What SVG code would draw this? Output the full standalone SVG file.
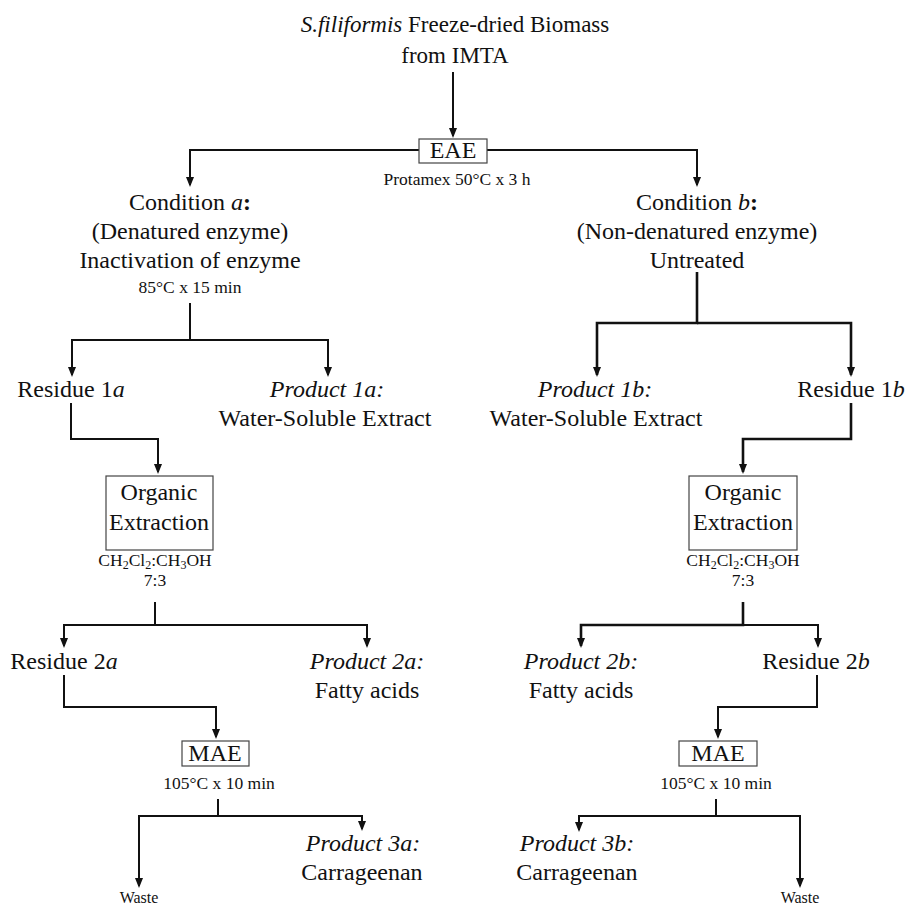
<svg xmlns="http://www.w3.org/2000/svg" width="906" height="905" viewBox="0 0 906 905">
<style>
text{font-family:"Liberation Serif","Times New Roman",serif;fill:#111;text-anchor:middle}
.t{font-size:24px}
.tt{font-size:23px}
.s{font-size:17.5px}
.w{font-size:16px}
.i{font-style:italic}
.b{font-weight:bold}
.box{fill:#fff;stroke:#444;stroke-width:1.2}
.c{fill:none;stroke:#111;stroke-width:2;marker-end:url(#ah)}
.k{stroke-width:2.6}
</style>
<defs>
<marker id="ah" viewBox="0 0 10 8" refX="8" refY="4" markerWidth="10" markerHeight="8" markerUnits="userSpaceOnUse" orient="auto">
<path d="M0,0 L10,4 L0,8 z" fill="#111"/>
</marker>
</defs>

<g id="connectors">
<path class="c" d="M453,72 V136"/>
<path class="c" d="M419,150 H190 V185"/>
<path class="c" d="M487,150 H697 V185"/>
<path class="c" d="M190,303 V340 H72 V375"/>
<path class="c" d="M190,340 H328 V375"/>
<path class="c k" d="M697,272 V323 H597 V375"/>
<path class="c k" d="M697,323 H851 V375"/>
<path class="c" d="M71,403 V439 H158 V472"/>
<path class="c k" d="M851,403 V439 H743 V472"/>
<path class="c" d="M155,602 V625 H64 V646"/>
<path class="c" d="M155,625 H367 V646"/>
<path class="c k" d="M743,602 V625 H581 V646"/>
<path class="c" d="M743,625 H818 V646"/>
<path class="c" d="M64,675 V707 H216 V737"/>
<path class="c" d="M817,675 V707 H718 V737"/>
<path class="c" d="M218,799 V816 H139 V886"/>
<path class="c" d="M218,816 H362 V829"/>
<path class="c" d="M716,799 V816 H579 V830"/>
<path class="c" d="M716,816 H800 V886"/>
</g>

<g id="biomass">
<text class="tt" x="455" y="32"><tspan class="i">S.filiformis</tspan> Freeze-dried Biomass</text>
<text class="tt" x="455" y="63">from IMTA</text>
</g>

<g id="eae">
<rect class="box" x="419" y="139" width="68" height="24"/>
<text class="t" x="453" y="158">EAE</text>
<text class="s" x="457" y="185">Protamex 50°C x 3 h</text>
</g>

<g id="condition-a">
<text class="t" x="190" y="210">Condition <tspan class="i">a</tspan><tspan class="b">:</tspan></text>
<text class="t" x="190" y="239">(Denatured enzyme)</text>
<text class="t" x="190" y="268">Inactivation of enzyme</text>
<text class="s" x="190" y="293">85°C x 15 min</text>
</g>

<g id="condition-b">
<text class="t" x="697" y="210">Condition <tspan class="i">b</tspan><tspan class="b">:</tspan></text>
<text class="t" x="697" y="239">(Non-denatured enzyme)</text>
<text class="t" x="697" y="268">Untreated</text>
</g>

<g id="residue-1a">
<text class="t" x="71" y="397">Residue 1<tspan class="i">a</tspan></text>
</g>
<g id="product-1a">
<text class="t i" x="327" y="397">Product 1a:</text>
<text class="t" x="325" y="426">Water-Soluble Extract</text>
</g>
<g id="product-1b">
<text class="t i" x="595" y="397">Product 1b:</text>
<text class="t" x="596" y="426">Water-Soluble Extract</text>
</g>
<g id="residue-1b">
<text class="t" x="851" y="397">Residue 1<tspan class="i">b</tspan></text>
</g>

<g id="organic-a">
<rect class="box" x="106" y="476" width="107" height="74"/>
<text class="t" x="159" y="500">Organic</text>
<text class="t" x="159" y="530">Extraction</text>
<text class="s" x="155" y="566">CH<tspan font-size="12" dy="2.5">2</tspan><tspan dy="-2.5">Cl</tspan><tspan font-size="12" dy="2.5">2</tspan><tspan dy="-2.5">:CH</tspan><tspan font-size="12" dy="2.5">3</tspan><tspan dy="-2.5">OH</tspan></text>
<text class="s" x="155" y="586">7:3</text>
</g>

<g id="organic-b">
<rect class="box" x="689" y="476" width="108" height="74"/>
<text class="t" x="743" y="500">Organic</text>
<text class="t" x="743" y="530">Extraction</text>
<text class="s" x="743" y="566">CH<tspan font-size="12" dy="2.5">2</tspan><tspan dy="-2.5">Cl</tspan><tspan font-size="12" dy="2.5">2</tspan><tspan dy="-2.5">:CH</tspan><tspan font-size="12" dy="2.5">3</tspan><tspan dy="-2.5">OH</tspan></text>
<text class="s" x="743" y="586">7:3</text>
</g>

<g id="residue-2a">
<text class="t" x="64" y="669">Residue 2<tspan class="i">a</tspan></text>
</g>
<g id="product-2a">
<text class="t i" x="367" y="669">Product 2a:</text>
<text class="t" x="367" y="698">Fatty acids</text>
</g>
<g id="product-2b">
<text class="t i" x="581" y="669">Product 2b:</text>
<text class="t" x="581" y="698">Fatty acids</text>
</g>
<g id="residue-2b">
<text class="t" x="816" y="669">Residue 2<tspan class="i">b</tspan></text>
</g>

<g id="mae-a">
<rect class="box" x="182" y="741" width="67" height="25"/>
<text class="t" x="215" y="761">MAE</text>
<text class="s" x="219" y="789">105°C x 10 min</text>
</g>
<g id="mae-b">
<rect class="box" x="679" y="741" width="78" height="25"/>
<text class="t" x="718" y="761">MAE</text>
<text class="s" x="716" y="789">105°C x 10 min</text>
</g>

<g id="waste-a">
<text class="w" x="139" y="903">Waste</text>
</g>
<g id="product-3a">
<text class="t i" x="363" y="851">Product 3a:</text>
<text class="t" x="362" y="880">Carrageenan</text>
</g>
<g id="product-3b">
<text class="t i" x="577" y="851">Product 3b:</text>
<text class="t" x="577" y="880">Carrageenan</text>
</g>
<g id="waste-b">
<text class="w" x="800" y="903">Waste</text>
</g>
</svg>
